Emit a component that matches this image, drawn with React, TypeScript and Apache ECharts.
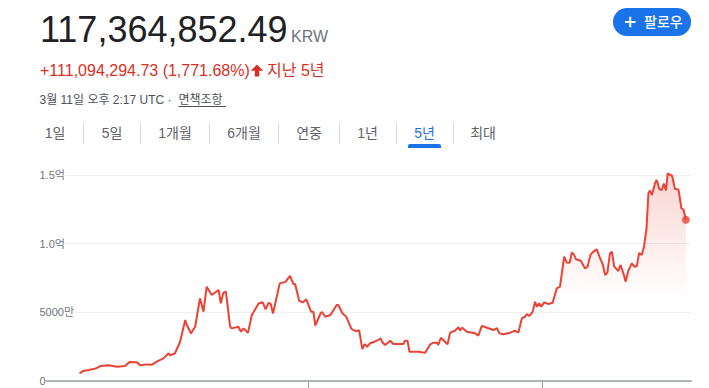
import React, { useEffect, useRef } from "react";
import * as echarts from "echarts";

const dates = [
  "2020-01-18", "2020-01-30", "2020-02-15", "2020-03-07", "2020-03-23", "2020-04-18", "2020-05-14", "2020-06-08",
  "2020-06-22", "2020-07-15", "2020-07-25", "2020-08-15", "2020-08-31", "2020-09-15", "2020-10-06", "2020-10-22",
  "2020-10-27", "2020-11-11", "2020-11-27", "2020-12-13", "2020-12-18", "2020-12-31", "2021-01-13", "2021-01-28",
  "2021-02-08", "2021-02-18", "2021-03-06", "2021-03-27", "2021-04-03", "2021-04-11", "2021-04-19", "2021-05-02",
  "2021-05-07", "2021-05-28", "2021-06-05", "2021-06-13", "2021-06-27", "2021-07-09", "2021-07-30", "2021-08-12",
  "2021-08-21", "2021-08-30", "2021-09-06", "2021-09-13", "2021-10-04", "2021-10-22", "2021-11-05", "2021-11-16",
  "2021-11-21", "2021-12-04", "2021-12-15", "2021-12-26", "2022-01-10", "2022-01-17", "2022-01-23", "2022-02-09",
  "2022-02-13", "2022-02-23", "2022-03-11", "2022-03-31", "2022-04-05", "2022-04-18", "2022-04-29", "2022-05-16",
  "2022-05-27", "2022-06-09", "2022-06-19", "2022-06-26", "2022-07-04", "2022-07-13", "2022-07-29", "2022-08-08",
  "2022-08-15", "2022-08-20", "2022-08-29", "2022-09-14", "2022-09-24", "2022-10-25", "2022-10-30", "2022-11-07",
  "2022-11-13", "2022-12-11", "2023-01-01", "2023-01-17", "2023-01-27", "2023-02-08", "2023-02-11", "2023-02-19",
  "2023-03-12", "2023-03-20", "2023-04-04", "2023-04-15", "2023-04-20", "2023-04-27", "2023-05-11", "2023-06-06",
  "2023-06-16", "2023-06-27", "2023-07-13", "2023-08-02", "2023-08-13", "2023-08-21", "2023-09-02", "2023-09-23",
  "2023-10-09", "2023-10-19", "2023-10-30", "2023-11-09", "2023-11-14", "2023-11-22", "2023-12-03", "2023-12-10",
  "2023-12-16", "2023-12-23", "2023-12-29", "2024-01-08", "2024-01-21", "2024-02-03", "2024-02-16", "2024-02-26",
  "2024-03-10", "2024-03-18", "2024-03-27", "2024-04-03", "2024-04-10", "2024-04-16", "2024-05-01", "2024-05-14",
  "2024-05-22", "2024-05-31", "2024-06-09", "2024-06-20", "2024-06-30", "2024-07-09", "2024-07-16", "2024-07-23",
  "2024-07-31", "2024-08-06", "2024-08-13", "2024-08-26", "2024-09-02", "2024-09-11", "2024-09-18", "2024-09-26",
  "2024-10-07", "2024-10-16", "2024-10-23", "2024-10-30", "2024-11-07", "2024-11-14", "2024-11-22", "2024-11-28",
  "2024-12-03", "2024-12-09", "2024-12-19", "2024-12-24", "2025-01-01", "2025-01-09", "2025-01-15", "2025-01-22",
  "2025-01-27", "2025-02-10", "2025-02-19", "2025-03-02", "2025-03-11", "2025-03-18", "2025-03-25",
];

// Price in millions of KRW
const pricesMillion = [
  5.6, 7.3, 8.0, 9.0, 10.9, 11.4, 10.4, 10.9,
  13.8, 13.6, 11.4, 12.1, 11.9, 14.1, 16.5, 20.2,
  18.7, 20.2, 28.6, 44.4, 40.8, 34.7, 39.5, 60.2,
  50.5, 68.7, 62.6, 66.3, 56.6, 64.3, 65.0, 39.8,
  38.3, 39.5, 35.9, 38.3, 35.2, 48.1, 56.4, 57.3,
  52.1, 56.9, 56.1, 49.2, 71.1, 72.2, 76.5, 70.6,
  70.6, 58.3, 57.2, 59.5, 50.5, 50.5, 40.4, 49.5,
  50.2, 46.8, 48.1, 55.3, 55.3, 49.2, 47.0, 37.9,
  36.4, 36.8, 23.3, 26.9, 24.8, 27.5, 28.8, 29.9,
  31.1, 28.4, 26.2, 29.3, 26.9, 26.9, 29.3, 29.3,
  21.3, 21.3, 20.6, 26.7, 27.9, 27.9, 26.2, 31.5,
  26.7, 35.2, 36.6, 39.1, 36.8, 38.8, 35.9, 34.7,
  33.0, 40.1, 38.8, 37.1, 38.4, 34.7, 34.0, 35.2,
  36.6, 35.2, 45.7, 46.8, 48.8, 47.3, 50.5, 57.7,
  54.1, 56.6, 54.1, 57.3, 56.1, 57.0, 67.5, 68.7,
  90.5, 86.3, 86.1, 93.6, 91.8, 88.6, 87.6, 82.0,
  83.2, 91.8, 94.2, 95.9, 89.4, 84.5, 77.2, 78.9,
  92.9, 94.2, 83.5, 80.1, 84.5, 78.4, 72.3, 80.1,
  85.7, 83.2, 83.7, 93.2, 91.8, 97.6, 110.7, 136.7,
  138.7, 135.4, 144.4, 146.4, 139.8, 139.1, 143.7, 138.7,
  151.1, 149.4, 139.8, 139.4, 125.8, 124.5, 117.364852,
];

const yTickValues = [0, 50000000, 100000000, 150000000];
const yTickLabels = ["0", "5000만", "1.0억", "1.5억"];
const xTickDates = ["2022-01-01", "2024-01-01"];
const xRange = ["2019-09-26", "2025-04-10"];

const tabLabels = ["1일", "5일", "1개월", "6개월", "연중", "1년", "5년", "최대"];
const activeTab = "5년";

const FONT = "Arial, 'Liberation Sans', 'Noto Sans CJK KR', sans-serif";
const RED = "#ea4335";

const ts = (d: string) => new Date(d + "T00:00:00Z").getTime();

export default function App() {
  const ref = useRef<HTMLDivElement>(null);

  useEffect(() => {
    if (!ref.current) return;
    const chart = echarts.init(ref.current, null, { renderer: "svg" });

    const seriesData = dates.map((d, i) => [ts(d), pricesMillion[i] * 1e6]);
    const last = seriesData[seriesData.length - 1];

    const tabCenters = [55, 112, 175, 244, 309, 367.5, 424.5, 483];
    const sepXs = [83.5, 140.5, 209.5, 278.5, 339.5, 396.5, 453.5];

    const graphics: any[] = [
      {
        type: "text",
        x: 40,
        y: 29,
        style: { text: "117,364,852.49", fill: "#202124", font: `36px ${FONT}`, textAlign: "left", textVerticalAlign: "middle" },
      },
      {
        type: "text",
        x: 291,
        y: 36.5,
        style: { text: "KRW", fill: "#70757a", font: `16px ${FONT}`, textAlign: "left", textVerticalAlign: "middle" },
      },
      {
        type: "text",
        x: 40,
        y: 70.5,
        style: { text: "+111,094,294.73 (1,771.68%)", fill: "#d93025", font: `16px ${FONT}`, textAlign: "left", textVerticalAlign: "middle" },
      },
      {
        type: "polygon",
        shape: {
          points: [
            [257, 64.5],
            [263.2, 70.8],
            [259.2, 70.8],
            [259.2, 76.5],
            [254.8, 76.5],
            [254.8, 70.8],
            [250.8, 70.8],
          ],
        },
        style: { fill: "#d93025" },
      },
      {
        type: "text",
        x: 267,
        y: 70.5,
        style: { text: "지난 5년", fill: "#d93025", font: `16px ${FONT}`, textAlign: "left", textVerticalAlign: "middle" },
      },
      {
        type: "text",
        x: 39.5,
        y: 99.5,
        style: { text: "3월 11일 오후 2:17 UTC ·", fill: "#4d5156", font: `12px ${FONT}`, textAlign: "left", textVerticalAlign: "middle" },
      },
      {
        type: "text",
        x: 178.5,
        y: 99.5,
        style: { text: "면책조항", fill: "#4d5156", font: `12px ${FONT}`, textAlign: "left", textVerticalAlign: "middle" },
      },
      {
        type: "line",
        shape: { x1: 178.5, y1: 106.5, x2: 226, y2: 106.5 },
        style: { stroke: "#4d5156", lineWidth: 1 },
      },
      // follow button
      {
        type: "rect",
        shape: { x: 613, y: 8, width: 78, height: 28, r: 14 },
        style: { fill: "#1a73e8" },
      },
      {
        type: "rect",
        shape: { x: 625, y: 21, width: 10.5, height: 2 },
        style: { fill: "#ffffff" },
      },
      {
        type: "rect",
        shape: { x: 629.25, y: 16.75, width: 2, height: 10.5 },
        style: { fill: "#ffffff" },
      },
      {
        type: "text",
        x: 644,
        y: 22,
        style: { text: "팔로우", fill: "#ffffff", font: `500 14px ${FONT}`, textAlign: "left", textVerticalAlign: "middle" },
      },
      // active tab underline
      {
        type: "rect",
        shape: { x: 408, y: 144, width: 33, height: 4, r: [2, 2, 0, 0] },
        style: { fill: "#1a73e8" },
      },
    ];

    tabLabels.forEach((t, i) => {
      graphics.push({
        type: "text",
        x: tabCenters[i],
        y: 133,
        style: {
          text: t,
          fill: t === activeTab ? "#1a73e8" : "#5f6368",
          font: `14px ${FONT}`,
          textAlign: "center",
          textVerticalAlign: "middle",
        },
      });
    });
    sepXs.forEach((x) => {
      graphics.push({
        type: "line",
        shape: { x1: x, y1: 122.5, x2: x, y2: 144 },
        style: { stroke: "#dadce0", lineWidth: 1 },
      });
    });

    chart.setOption({
      animation: false,
      backgroundColor: "#ffffff",
      textStyle: { fontFamily: FONT },
      grid: { left: 43, right: 18, top: 175, bottom: 7, containLabel: false },
      xAxis: {
        type: "value",
        min: ts(xRange[0]),
        max: ts(xRange[1]),
        axisLine: { show: true, onZero: false, lineStyle: { color: "#b0b3b8", width: 2 } },
        axisTick: {
          show: true,
          customValues: xTickDates.map(ts),
          length: 10,
          lineStyle: { color: "#9aa0a6", width: 1 },
        },
        axisLabel: { show: false },
        splitLine: { show: false },
      },
      yAxis: {
        type: "value",
        min: yTickValues[0],
        max: yTickValues[yTickValues.length - 1],
        interval: yTickValues[1] - yTickValues[0],
        axisLine: { show: false },
        axisTick: { show: false },
        splitLine: { show: true, lineStyle: { color: "#efefef", width: 1 } },
        axisLabel: {
          align: "left",
          margin: 3.5,
          color: "#70757a",
          fontSize: 11,
          fontFamily: FONT,
          backgroundColor: "#ffffff",
          formatter: (v: number) => {
            const idx = yTickValues.indexOf(v);
            return idx >= 0 ? yTickLabels[idx] : "";
          },
        },
      },
      series: [
        {
          type: "line",
          data: seriesData,
          showSymbol: false,
          clip: false,
          silent: true,
          lineStyle: { color: RED, width: 2 },
          areaStyle: {
            color: new echarts.graphic.LinearGradient(0, 0, 0, 1, [
              { offset: 0, color: "rgba(234,67,53,0.32)" },
              { offset: 0.6, color: "rgba(234,67,53,0)" },
            ]),
          },
          z: 3,
        },
        {
          type: "scatter",
          data: [last],
          symbol: "circle",
          symbolSize: 8,
          itemStyle: { color: RED },
          silent: true,
          clip: false,
          z: 4,
        },
      ],
      graphic: { elements: graphics },
    });

    return () => chart.dispose();
  }, []);

  return (
    <div style={{ position: "absolute", left: 0, top: 0, width: 709, height: 388, background: "#fff" }}>
      <div ref={ref} style={{ width: 709, height: 388 }} />
    </div>
  );
}
